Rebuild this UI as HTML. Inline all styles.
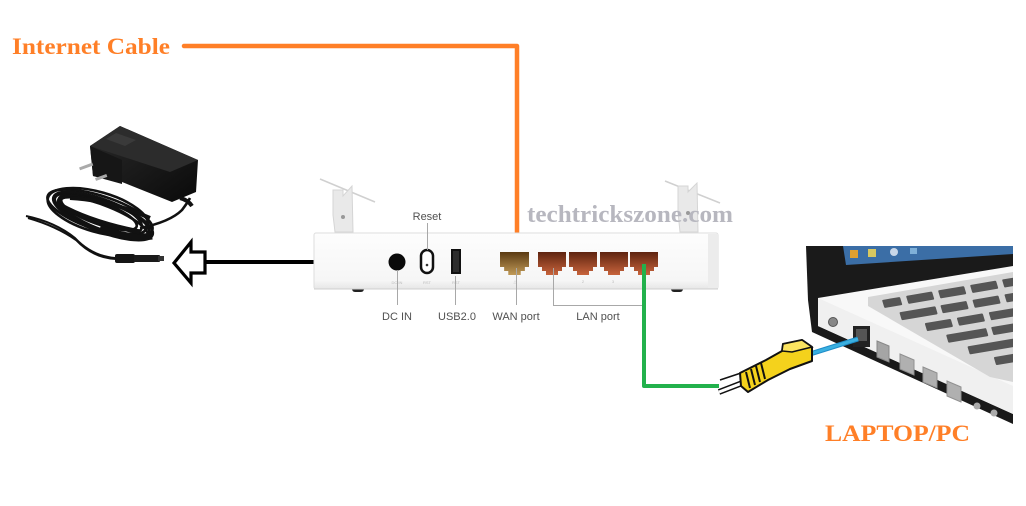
<!DOCTYPE html>
<html><head><meta charset="utf-8"><style>
html,body{margin:0;padding:0;background:#fff;}
svg{display:block;}
</style></head><body>
<svg width="1026" height="506" viewBox="0 0 1026 506" xmlns="http://www.w3.org/2000/svg">
<defs>
<linearGradient id="wan" x1="0" y1="0" x2="0" y2="1"><stop offset="0" stop-color="#5a3a12"/><stop offset="1" stop-color="#c09a58"/></linearGradient>
<linearGradient id="lan" x1="0" y1="0" x2="0" y2="1"><stop offset="0" stop-color="#5e2410"/><stop offset="1" stop-color="#c8643c"/></linearGradient>
<linearGradient id="body" x1="0" y1="0" x2="0" y2="1"><stop offset="0" stop-color="#fdfdfd"/><stop offset="0.85" stop-color="#f6f6f6"/><stop offset="1" stop-color="#e6e6e6"/></linearGradient>
<linearGradient id="adp" x1="0" y1="0" x2="1" y2="1"><stop offset="0" stop-color="#2a2a2a"/><stop offset="1" stop-color="#0a0a0a"/></linearGradient>
<clipPath id="lapclip"><rect x="800" y="240" width="213" height="190"/></clipPath>
<clipPath id="kbclip"><polygon points="868,297 1013,272 1013,382 990,377 868,306"/></clipPath>
<symbol id="rj" viewBox="0 0 28 23"><polygon points="0,0 28,0 28,15 24,15 24,19 20,19 20,23 8,23 8,19 4,19 4,15 0,15"/></symbol>
</defs>

<!-- Internet Cable label and orange line -->
<text x="12" y="54" font-family="Liberation Serif, serif" font-weight="bold" font-size="23" fill="#ff7f27" textLength="158" lengthAdjust="spacingAndGlyphs">Internet Cable</text>
<polyline points="184,46 517,46 517,262" fill="none" stroke="#ff7f27" stroke-width="4.5" stroke-linecap="round" stroke-linejoin="round"/>

<!-- Power adapter -->
<g>
  <g fill="none" stroke="#111" stroke-width="2.6">
    <ellipse cx="100" cy="213" rx="55" ry="17" transform="rotate(18 100 213)"/>
    <ellipse cx="102" cy="215" rx="50" ry="14" transform="rotate(20 102 215)"/>
    <ellipse cx="98" cy="212" rx="52" ry="20" transform="rotate(16 98 212)"/>
    <ellipse cx="104" cy="218" rx="47" ry="12" transform="rotate(22 104 218)"/>
    <ellipse cx="100" cy="214" rx="44" ry="15" transform="rotate(19 100 214)"/>
    <ellipse cx="103" cy="216" rx="53" ry="16" transform="rotate(21 103 216)"/>
    <ellipse cx="99" cy="213" rx="40" ry="11" transform="rotate(20 99 213)"/>
    <path d="M140 228 Q170 222 182 210 Q188 202 190 198"/>
  </g>
  <g fill="none" stroke="#111" stroke-width="2">
    <path d="M26 216 Q55 222 75 238 Q92 256 115 258"/>
    <path d="M28 218 Q56 226 76 240 Q93 258 116 259"/>
  </g>
  <path d="M100 228 Q130 240 152 236" stroke="#111" stroke-width="7" fill="none"/>
  <path d="M60 205 Q90 222 140 232" stroke="#111" stroke-width="5" fill="none"/>
  <path d="M70 198 Q110 200 150 218" stroke="#111" stroke-width="4" fill="none"/>
  <!-- plug -->
  <rect x="115" y="254" width="20" height="9" rx="2" fill="#151515"/>
  <rect x="134" y="255" width="26" height="7" rx="1" fill="#1a1a1a"/>
  <rect x="158" y="256" width="6" height="5" fill="#333"/>
  <!-- body -->
  <polygon points="90,146 120,126 198,160 196,192 172,202 122,182 93,176" fill="url(#adp)"/>
  <polygon points="90,146 120,126 198,160 170,172" fill="#2c2c2c"/>
  <polygon points="90,146 122,160 122,184 93,176" fill="#161616"/>
  <polygon points="106,139 116,133 136,140 125,146" fill="#3a3a3a"/>
  <rect x="79" y="165" width="14" height="3" fill="#aaa" transform="rotate(-20 86 166)"/>
  <rect x="95" y="176" width="12" height="3" fill="#aaa" transform="rotate(-20 101 177)"/>
  <path d="M180 198 Q188 200 192 206" stroke="#111" stroke-width="4" fill="none"/>
</g>

<!-- Arrow outline and black line -->
<polyline points="205,262 397,262" stroke="#000" stroke-width="4" fill="none"/>
<polygon points="174,263 191,242 191,252 205,252 205,273 191,273 191,283" fill="#fff" stroke="#000" stroke-width="3.2" stroke-linejoin="miter"/>

<!-- Router antennas -->
<line x1="320" y1="179" x2="375" y2="202" stroke="#d0d0d0" stroke-width="1.5"/>
<polygon points="333,190 343,190 343,196 352,186 353,232 335,232 333,215" fill="#e9e9e9" stroke="#d5d5d5" stroke-width="1"/>
<circle cx="343" cy="217" r="2" fill="#999"/>
<line x1="665" y1="181" x2="720" y2="203" stroke="#d0d0d0" stroke-width="1.5"/>
<polygon points="678,186 688,186 688,192 697,183 698,232 680,232 678,212" fill="#e9e9e9" stroke="#d5d5d5" stroke-width="1"/>
<circle cx="688" cy="213" r="2" fill="#999"/>

<!-- Watermark -->
<text x="527" y="222" font-family="Liberation Serif, serif" font-weight="bold" font-size="24" fill="#b7b7bf" textLength="206" lengthAdjust="spacingAndGlyphs">techtrickszone.com</text>

<!-- Router body -->
<rect x="352" y="286" width="12" height="6" rx="3" fill="#222"/>
<rect x="671" y="286" width="12" height="6" rx="3" fill="#222"/>
<rect x="314" y="233" width="404" height="56" rx="2" fill="url(#body)" stroke="#dedede" stroke-width="1"/>
<rect x="708" y="234" width="10" height="54" fill="#ececec"/>
<line x1="314" y1="289" x2="718" y2="289" stroke="#cfcfcf" stroke-width="1"/>

<circle cx="397" cy="262" r="8.5" fill="#0a0a0a"/>
<rect x="421" y="250" width="12" height="23" rx="6" fill="#fff" stroke="#111" stroke-width="2.5"/>
<circle cx="427" cy="265" r="1.3" fill="#333"/>
<rect x="451" y="249" width="10" height="25" fill="#111"/>
<rect x="453" y="251" width="6" height="21" fill="#2d2d2d"/>
<svg x="500" y="252" width="29" height="23" viewBox="0 0 28 23" preserveAspectRatio="none"><use href="#rj" fill="url(#wan)"/></svg>
<svg x="538" y="252" width="28" height="23" viewBox="0 0 28 23" preserveAspectRatio="none"><use href="#rj" fill="url(#lan)"/></svg>
<svg x="569" y="252" width="28" height="23" viewBox="0 0 28 23" preserveAspectRatio="none"><use href="#rj" fill="url(#lan)"/></svg>
<svg x="600" y="252" width="28" height="23" viewBox="0 0 28 23" preserveAspectRatio="none"><use href="#rj" fill="url(#lan)"/></svg>
<svg x="630" y="252" width="28" height="23" viewBox="0 0 28 23" preserveAspectRatio="none"><use href="#rj" fill="url(#lan)"/></svg>

<g font-family="Liberation Sans, sans-serif" font-size="4" fill="#bbb" text-anchor="middle">
<text x="397" y="284">DC IN</text><text x="427" y="284">RST</text><text x="456" y="284">RST</text>
<text x="515" y="283">△</text><text x="583" y="283">2</text><text x="613" y="283">3</text>
</g>

<g stroke="#a8a8a8" stroke-width="1" fill="none">
<line x1="427.5" y1="223" x2="427.5" y2="250"/>
<line x1="397.5" y1="270" x2="397.5" y2="305"/>
<line x1="455.5" y1="276" x2="455.5" y2="305"/>
<line x1="516.5" y1="268" x2="516.5" y2="305"/>
<polyline points="553.5,268 553.5,305.5 643,305.5"/>
</g>

<g font-family="Liberation Sans, sans-serif" font-size="11" fill="#505050" text-anchor="middle">
<text x="427" y="220">Reset</text>
<text x="397" y="320">DC IN</text>
<text x="457" y="320">USB2.0</text>
<text x="516" y="320">WAN port</text>
<text x="598" y="320">LAN port</text>
</g>

<!-- Green line -->
<polyline points="644,264 644,386 719,386" fill="none" stroke="#22b14c" stroke-width="4" stroke-linejoin="round"/>

<!-- Laptop -->
<g clip-path="url(#lapclip)">
  <polygon points="806,246 1013,246 1013,424 812,332 808,300" fill="#1a1a1a"/>
  <polygon points="843,246 1013,246 1013,254 846,265" fill="#3b6ea6"/>
  <rect x="850" y="250" width="8" height="8" fill="#e0a030"/>
  <rect x="868" y="249" width="8" height="8" fill="#d8c860"/>
  <circle cx="894" cy="252" r="4" fill="#c9d7e8"/>
  <rect x="910" y="248" width="7" height="6" fill="#7fb0d8"/>
  <!-- base -->
  <polygon points="818,298 1013,266 1013,414 818,326" fill="#f8f8f8"/>
  <polygon points="818,298 1013,386 1013,414 818,326" fill="#f0f0f0"/>
  <!-- keyboard deck -->
  <polygon points="868,297 1013,272 1013,382 990,377 868,306" fill="#d6d6d6"/>
  <g clip-path="url(#kbclip)">
  <g transform="matrix(1,-0.17,0.3,1,882,300)" fill="#555">
    <rect x="0" y="0" width="18" height="8" rx="1"/><rect x="24" y="0" width="26" height="8" rx="1"/><rect x="56" y="0" width="26" height="8" rx="1"/><rect x="88" y="0" width="26" height="8" rx="1"/><rect x="120" y="0" width="26" height="8" rx="1"/>
    <rect x="13" y="14.5" width="36" height="8" rx="1"/><rect x="54" y="14.5" width="26" height="8" rx="1"/><rect x="86" y="14.5" width="26" height="8" rx="1"/><rect x="118" y="14.5" width="26" height="8" rx="1"/>
    <rect x="34" y="29" width="26" height="8" rx="1"/><rect x="66" y="29" width="26" height="8" rx="1"/><rect x="98" y="29" width="26" height="8" rx="1"/><rect x="130" y="29" width="26" height="8" rx="1"/>
    <rect x="51" y="43.5" width="40" height="8" rx="1"/><rect x="96" y="43.5" width="26" height="8" rx="1"/><rect x="128" y="43.5" width="26" height="8" rx="1"/>
    <rect x="68" y="58" width="46" height="8" rx="1"/><rect x="120" y="58" width="26" height="8" rx="1"/>
    <rect x="90" y="72.5" width="40" height="8" rx="1"/>
  </g>
  </g>
  <!-- side ports -->
  <circle cx="833" cy="322" r="4.5" fill="#888" stroke="#555" stroke-width="1"/>
  <rect x="853" y="326" width="17" height="21" fill="#222"/>
  <rect x="856" y="329" width="11" height="12" fill="#555"/>
  <polygon points="877,341 889,346 889,362 877,357" fill="#a5a5a5" stroke="#888" stroke-width="1"/>
  <polygon points="900,354 914,360 914,375 900,369" fill="#b0b0b0" stroke="#909090" stroke-width="1"/>
  <polygon points="923,367 937,373 937,388 923,382" fill="#b0b0b0" stroke="#909090" stroke-width="1"/>
  <polygon points="947,381 961,387 961,402 947,396" fill="#b0b0b0" stroke="#909090" stroke-width="1"/>
  <circle cx="977" cy="406" r="3.5" fill="#aaa"/>
  <circle cx="994" cy="413" r="3.5" fill="#aaa"/>
</g>

<!-- Ethernet cable to laptop -->
<line x1="810" y1="354" x2="858" y2="339" stroke="#1e8cc8" stroke-width="5"/>
<line x1="810" y1="354" x2="858" y2="339" stroke="#3ab0e0" stroke-width="3"/>
<path d="M719 392 L745 382" stroke="#111" stroke-width="6" fill="none"/>
<path d="M719 392 L745 382" stroke="#fff" stroke-width="3" fill="none"/>
<path d="M720 380 L744 372" stroke="#111" stroke-width="1.5" fill="none"/>
<polygon points="740,373 766,360 782,351 783,344 802,340 812,347 812,361 790,369 768,380 748,392 741,386" fill="#f4d21c" stroke="#111" stroke-width="2" stroke-linejoin="round"/>
<polygon points="782,351 783,344 802,340 812,347 792,352" fill="#fbe460" stroke="#111" stroke-width="1.5"/>
<g stroke="#111" stroke-width="2">
<line x1="746" y1="372" x2="750" y2="388"/><line x1="751" y1="369" x2="755" y2="385"/><line x1="756" y1="366" x2="760" y2="382"/><line x1="761" y1="363" x2="765" y2="379"/>
</g>

<text x="825" y="441" font-family="Liberation Serif, serif" font-weight="bold" font-size="23" fill="#ff7f27" textLength="145" lengthAdjust="spacingAndGlyphs">LAPTOP/PC</text>
</svg>
</body></html>
